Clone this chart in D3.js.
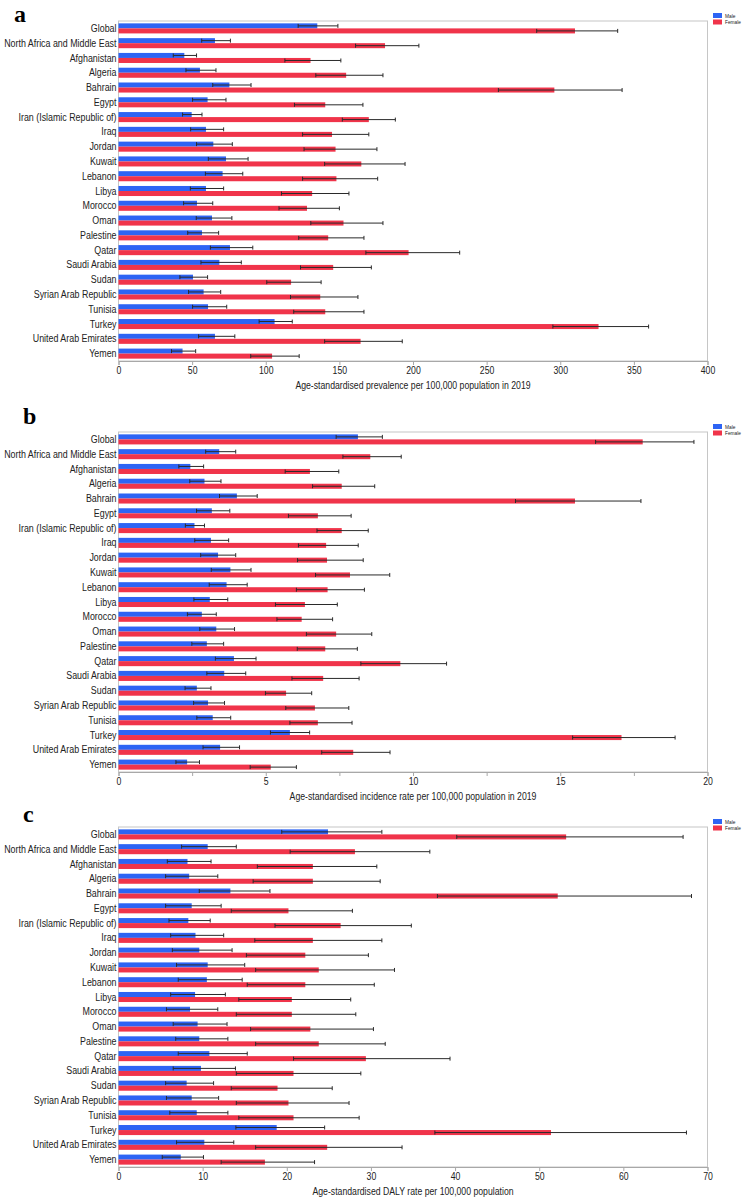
<!DOCTYPE html>
<html>
<head>
<meta charset="utf-8">
<script src="https://cdn.jsdelivr.net/npm/d3@7"></script>
<style>
  body { margin: 0; background: #fff; }
  svg { display: block; }
  .lab { font-family: "Liberation Sans", Arial, sans-serif; }
</style>
</head>
<body>
<svg id="svg0" width="749" height="1200"></svg>
<script>
var countries = ["Global", "North Africa and Middle East", "Afghanistan", "Algeria", "Bahrain", "Egypt",
    "Iran (Islamic Republic of)", "Iraq", "Jordan", "Kuwait", "Lebanon", "Libya", "Morocco", "Oman",
    "Palestine", "Qatar", "Saudi Arabia", "Sudan", "Syrian Arab Republic", "Tunisia", "Turkey",
    "United Arab Emirates", "Yemen"];

// [value, lower, upper]
var prevMale = [[135,122,149],[65.5,56.5,76],[44.7,37.2,53],[55.3,45.8,66.2],[75.3,64,90],[60.5,50.3,73],
    [49.7,43.5,56.7],[59.4,49,71.4],[64.4,53,77.3],[73,61,88],[70.7,59,84.4],[59.4,48.8,71.4],[53.3,44.2,64],
    [63.5,52.8,77],[56.7,47,68],[75.7,62.4,91.2],[68.5,56,83.4],[50.6,41.7,60.5],[57.8,47.6,69.4],
    [60.8,50.3,73.5],[106,95.5,118],[65.5,54.4,79],[43.5,36,52.4]];
var prevFemale = [[310,284,339],[181,161,204],[130.4,113,151],[154.6,134,179.6],[296,258,342],[140.4,119.5,166],
    [170,152,188],[145,125,170],[147.4,126,175.5],[164.9,140,194.6],[148,125,176],[131.5,110.7,156.5],[128,109,150],
    [152.8,130.6,179.6],[142.4,122.4,166.7],[197,168,231.7],[145.8,123.6,171.7],[117.2,100.7,137.6],[137,116.8,162.6],
    [140.4,119,166.7],[326,295,360],[164.4,140,192.7],[104.3,89.8,122.7]];

var incMale = [[8.13,7.39,8.96],[3.42,2.96,3.98],[2.44,2.05,2.89],[2.92,2.42,3.48],[4.02,3.43,4.71],[3.17,2.65,3.78],
    [2.58,2.27,2.92],[3.14,2.59,3.74],[3.38,2.79,3.98],[3.8,3.15,4.5],[3.67,3.08,4.37],[3.1,2.56,3.71],[2.83,2.34,3.32],
    [3.32,2.76,3.94],[3.0,2.49,3.57],[3.92,3.29,4.67],[3.59,3.0,4.32],[2.66,2.26,3.14],[3.04,2.55,3.6],
    [3.2,2.66,3.81],[5.82,5.16,6.49],[3.45,2.87,4.11],[2.33,1.95,2.75]];
var incFemale = [[17.8,16.2,19.54],[8.55,7.62,9.6],[6.5,5.66,7.48],[7.58,6.59,8.7],[15.5,13.48,17.74],[6.77,5.77,7.9],
    [7.58,6.74,8.48],[7.05,6.11,8.14],[7.08,6.08,8.31],[7.86,6.69,9.21],[7.1,6.04,8.35],[6.33,5.33,7.43],[6.22,5.38,7.27],
    [7.39,6.38,8.6],[7.02,6.07,8.11],[9.57,8.23,11.14],[6.95,5.89,8.17],[5.69,4.99,6.56],[6.67,5.68,7.82],
    [6.77,5.82,7.93],[17.08,15.42,18.9],[7.97,6.9,9.22],[5.17,4.47,6.04]];

var dalyMale = [[24.9,19.4,31.3],[10.6,7.5,14.0],[8.2,5.8,11.0],[8.4,5.6,11.8],[13.3,9.6,18.0],[8.7,5.6,12.2],
    [8.3,6.0,10.9],[9.15,6.2,12.5],[9.6,6.4,13.5],[10.6,6.9,15.0],[10.5,7.1,14.7],[9.1,6.2,12.7],[8.5,5.7,11.8],
    [9.4,6.5,12.9],[9.6,6.8,13.0],[10.8,7.1,15.3],[9.8,6.5,13.9],[8.1,5.6,11.3],[8.7,5.7,11.9],
    [9.3,6.1,13.0],[18.8,13.95,24.5],[10.2,6.9,13.7],[7.4,5.2,10.1]];
var dalyFemale = [[53.2,40.2,67.1],[28.1,20.4,37.0],[23.1,16.5,30.7],[23.1,16.0,31.1],[52.2,37.9,68.1],[20.2,13.4,27.8],
    [26.4,18.6,34.8],[23.1,16.2,31.3],[22.2,15.2,29.7],[23.8,16.3,32.8],[22.2,15.3,30.4],[20.6,14.3,27.6],[20.6,14.0,28.2],
    [22.8,15.7,30.3],[23.8,16.3,31.7],[29.4,20.8,39.4],[20.8,14.0,28.8],[18.9,13.4,25.4],[20.2,14.0,27.4],
    [20.8,14.3,28.6],[51.4,37.6,67.5],[24.8,16.3,33.7],[17.4,12.2,23.3]];

var panelLetters = ["a", "b", "c"];
var axisTitles = ["Age-standardised prevalence per 100,000 population in 2019",
    "Age-standardised incidence rate per 100,000 population in 2019",
    "Age-standardised DALY rate per 100,000 population"];
var axisMax = [400, 20, 70];
var tickSteps = [50, 2.5, 10];
var labelSteps = [50, 5, 10];

var seriesNames = ["Male", "Female"];
var colors = ["#2d64f4", "#f0344a"];

var svg = d3.select('#svg0');

var left = 118.5, right = 707.5;
var tops = [21, 432, 827];
var letterPos = [[14, 22], [23, 424], [23, 822]];
var plotH = 340;
var squeeze = 0.87;   // the reference text is horizontally narrow

// put text at (x,y) and narrow it horizontally
function placeText(sel, x, y) {
    sel.attr('transform', 'translate(' + x + ',' + y + ') scale(' + squeeze + ',1)');
}

var panels = [
    {male: prevMale, female: prevFemale},
    {male: incMale, female: incFemale},
    {male: dalyMale, female: dalyFemale}
];

panels.forEach(function (p, i) {
    var top = tops[i];
    var bottom = top + plotH;
    var g = svg.append('g');

    var x = d3.scaleLinear()
        .domain([0, axisMax[i]])
        .range([left, right]);

    var y = d3.scaleBand()
        .domain(countries)
        .range([top, bottom])
        .paddingInner(0.32)
        .paddingOuter(0.16);

    var half = y.bandwidth() / 2;

    // frame
    g.append('rect')
        .attr('x', left)
        .attr('y', top)
        .attr('width', right - left)
        .attr('height', plotH)
        .attr('fill', 'none')
        .attr('stroke', '#c6c6c6')
        .attr('stroke-width', 1);

    [p.male, p.female].forEach(function (series, s) {
        g.selectAll('rect.bar' + s)
            .data(series)
            .enter()
            .append('rect')
            .attr('class', 'bar' + s)
            .attr('x', x(0))
            .attr('y', function (d, k) { return y(countries[k]) + s * half; })
            .attr('width', function (d) { return x(d[0]) - x(0); })
            .attr('height', half)
            .attr('fill', colors[s]);
    });

    [p.male, p.female].forEach(function (series, s) {
        var eg = g.selectAll('g.err' + s)
            .data(series)
            .enter()
            .append('g')
            .attr('class', 'err' + s)
            .attr('transform', function (d, k) {
                return 'translate(0,' + (y(countries[k]) + s * half + half / 2) + ')';
            });
        eg.append('line')
            .attr('x1', function (d) { return x(d[1]); })
            .attr('x2', function (d) { return x(d[2]); })
            .attr('stroke', '#2a2a2a')
            .attr('stroke-width', 1);
        eg.append('line')
            .attr('x1', function (d) { return x(d[1]); })
            .attr('x2', function (d) { return x(d[1]); })
            .attr('y1', -2).attr('y2', 2)
            .attr('stroke', '#2a2a2a');
        eg.append('line')
            .attr('x1', function (d) { return x(d[2]); })
            .attr('x2', function (d) { return x(d[2]); })
            .attr('y1', -2).attr('y2', 2)
            .attr('stroke', '#2a2a2a');
    });

    // category labels
    g.selectAll('text.cat')
        .data(countries)
        .enter()
        .append('text')
        .attr('class', 'cat lab')
        .each(function (d) {
            placeText(d3.select(this), left - 2, y(d) + y.bandwidth() / 2);
        })
        .attr('dy', '0.35em')
        .attr('text-anchor', 'end')
        .attr('font-size', '10.2px')
        .attr('fill', '#222')
        .text(function (d) { return d; });

    // bottom axis
    var ticks = d3.range(0, axisMax[i] + 0.001, tickSteps[i]);
    var axis = d3.axisBottom(x)
        .tickValues(ticks)
        .tickSize(4)
        .tickFormat(function (d) {
            return (Math.abs(d / labelSteps[i] - Math.round(d / labelSteps[i])) < 1e-6) ? d : '';
        });
    var ag = g.append('g')
        .attr('transform', 'translate(0,' + bottom + ')')
        .call(axis);
    ag.select('.domain').attr('stroke', '#a8a8a8');
    ag.selectAll('.tick line').attr('stroke', '#a8a8a8');
    ag.selectAll('.tick text')
        .attr('class', 'lab')
        .attr('font-size', '10px')
        .attr('fill', '#222')
        .attr('y', 6)
        .attr('transform', 'scale(' + squeeze + ',1)');

    g.append('text')
        .attr('class', 'lab')
        .call(placeText, (left + right) / 2, bottom + 28)
        .attr('text-anchor', 'middle')
        .attr('font-size', '10px')
        .attr('fill', '#222')
        .text(axisTitles[i]);

    g.append('text')
        .attr('x', letterPos[i][0])
        .attr('y', letterPos[i][1])
        .attr('font-family', '"Liberation Serif", "Times New Roman", serif')
        .attr('font-weight', 'bold')
        .attr('font-size', '24px')
        .attr('fill', '#000')
        .text(panelLetters[i]);

    // legend
    var lg = g.append('g')
        .attr('transform', 'translate(713,' + (top - 8) + ')');
    seriesNames.forEach(function (name, s) {
        lg.append('rect')
            .attr('x', 0)
            .attr('y', s * 6.5)
            .attr('width', 9)
            .attr('height', 5)
            .attr('fill', colors[s]);
        lg.append('text')
            .attr('class', 'lab')
            .call(placeText, 12, s * 6.5 + 4.5)
            .attr('font-size', '5.5px')
            .attr('fill', '#222')
            .text(name);
    });
});
</script>
</body>
</html>
